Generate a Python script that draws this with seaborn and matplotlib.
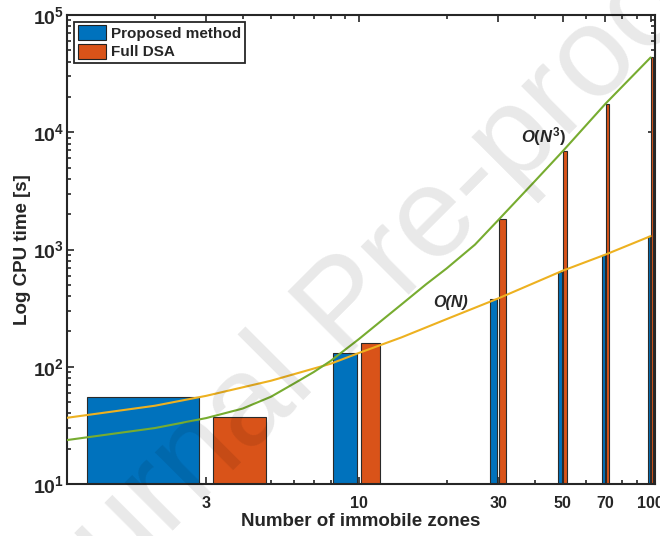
import numpy as np
import pandas as pd
import matplotlib
matplotlib.use("Agg")
import matplotlib.pyplot as plt
import matplotlib.ticker as mticker
from matplotlib.patches import Patch
import seaborn as sns

# ---------------- data ----------------
zones = [3, 10, 30, 50, 70, 100]
proposed_time = [55, 130, 376, 638, 896, 1300]
full_dsa_time = [37.5, 160, 1807, 6900, 17260, 43450]
methods = ["Proposed method", "Full DSA"]

# fitted trend curves
curve_n_lin = [1, 2, 3, 5, 8, 10, 14, 20, 30, 50, 70, 100]
curve_on = [36.7, 46.5, 56.5, 76, 106, 131, 178, 255, 382, 660, 905, 1300]
curve_n_cub = [1, 2, 3, 4, 5, 6, 7, 8, 10, 12, 14, 17, 20, 25, 30, 40, 50, 70, 100]
curve_on3 = [23.7, 30.0, 36.5, 44, 55.5, 72, 90, 112, 172, 249, 340, 505, 690,
             1100, 1775, 3800, 6900, 17500, 43450]

x_ticks = [3, 10, 30, 50, 70, 100]

# ---------------- style ----------------
sns.set_style("ticks")
plt.rcParams["font.family"] = ["Liberation Sans", "DejaVu Sans"]
plt.rcParams["font.weight"] = "bold"
plt.rcParams["mathtext.fontset"] = "custom"
plt.rcParams["mathtext.rm"] = "Liberation Sans:bold"
plt.rcParams["mathtext.bf"] = "Liberation Sans:bold"
plt.rcParams["mathtext.it"] = "Liberation Sans:bold:italic"

blue = "#0072BD"
orange = "#D95319"
yellow = "#EDB120"
green = "#77AC30"
dark = "#262626"

df = pd.DataFrame({
    "N": zones * 2,
    "time": proposed_time + full_dsa_time,
    "method": [methods[0]] * len(zones) + [methods[1]] * len(zones),
})

fig = plt.figure(figsize=(6.6, 5.36), dpi=100)
ax = fig.add_axes([67 / 660, 1 - 484 / 536, (655 - 67) / 660, (484 - 15) / 536])

sns.barplot(data=df, x="N", y="time", hue="method", hue_order=methods,
            palette=[blue, orange], saturation=1, native_scale=True,
            width=4 / 7, gap=0.175, errorbar=None, legend=False,
            edgecolor="#2a2a2a", linewidth=0.8, ax=ax, zorder=2)

ax.set_xscale("log")
ax.set_yscale("log")

sns.lineplot(x=curve_n_lin, y=curve_on, color=yellow, linewidth=1.5, ax=ax, zorder=3)
sns.lineplot(x=curve_n_cub, y=curve_on3, color=green, linewidth=1.5, ax=ax, zorder=3)

ax.set_xlim(1, 103.5)
ax.set_ylim(10, 1e5)

ax.xaxis.set_major_locator(mticker.FixedLocator(x_ticks))
ax.xaxis.set_major_formatter(mticker.FixedFormatter([str(t) for t in x_ticks]))
ax.xaxis.set_minor_locator(mticker.LogLocator(base=10, subs=np.arange(2, 10)))
ax.xaxis.set_minor_formatter(mticker.NullFormatter())
ax.yaxis.set_major_locator(mticker.LogLocator(base=10, numticks=10))
ax.yaxis.set_minor_locator(mticker.LogLocator(base=10, subs=np.arange(2, 10), numticks=10))
ax.yaxis.set_minor_formatter(mticker.NullFormatter())

ax.tick_params(which="both", direction="in", top=True, right=True, colors=dark, width=1.2)
ax.tick_params(which="major", length=5)
ax.tick_params(which="minor", length=2.8)
ax.tick_params(axis="x", labelsize=11.5, pad=8.5)
ax.tick_params(axis="y", labelsize=14, pad=2)
for lab in ax.get_xticklabels() + ax.get_yticklabels():
    lab.set_fontweight("bold")
for s in ax.spines.values():
    s.set_visible(True)
    s.set_linewidth(1.5)
    s.set_color(dark)

ax.set_xlabel("Number of immobile zones", fontsize=13.5, fontweight="bold", color=dark, labelpad=1.5)
ax.set_ylabel("Log CPU time [s]", fontsize=13.5, fontweight="bold", color=dark, labelpad=1)

ax.text(20.7, 356, "O(N)", fontsize=11.5, fontweight="bold", style="italic",
        ha="center", va="center", zorder=4)
ax.text(43, 9270, r"$\mathit{O(N^{3})}$", fontsize=12,
        ha="center", va="center", zorder=4)

handles = [Patch(facecolor=blue, edgecolor="#222222", linewidth=0.8),
           Patch(facecolor=orange, edgecolor="#222222", linewidth=0.8)]
leg = ax.legend(handles, methods, loc="upper left", bbox_to_anchor=(0.012, 0.986),
                borderaxespad=0, fancybox=False, framealpha=1, edgecolor=dark,
                fontsize=11, handlelength=1.85, handleheight=1.1, handletextpad=0.3,
                labelspacing=0.2, borderpad=0.25)
leg.get_frame().set_linewidth(1.3)
for t in leg.get_texts():
    t.set_fontweight("bold")

# watermark
fig.text(347 / 660, 1 - 310 / 536, "Journal Pre-proof", fontsize=92,
         family="Liberation Sans", fontweight="normal", color="black", alpha=0.09,
         rotation=45, ha="center", va="center", zorder=10)

fig.savefig("out.png", dpi=100)
